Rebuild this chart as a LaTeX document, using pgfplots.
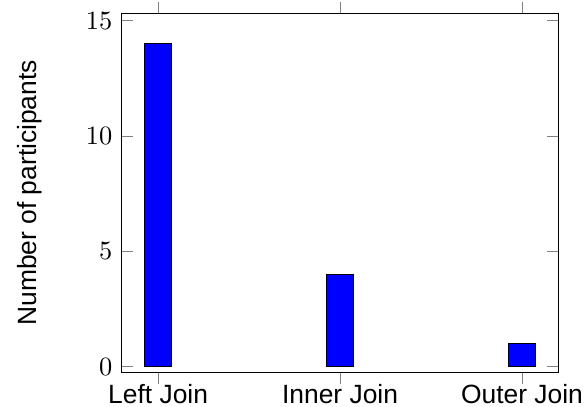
\documentclass[border=0pt]{standalone}
\usepackage{pgfplots}
\pgfplotsset{compat=1.18}
\usepackage{fontspec}
\setmainfont{Liberation Sans}
\begin{document}
\begin{tikzpicture}
\begin{axis}[
  scale only axis,
  width=165.4pt, height=136.1pt,
  ybar,
  bar width=10pt,
  xmin=-0.2, xmax=2.2,
  ymin=-0.26, ymax=15.32,
  xtick=data,
  xticklabels={Left Join, Inner Join, Outer Join},
  xticklabel style={yshift=3.5pt},
  ytick={0,5,10,15},
  ylabel={Number of participants},
  ylabel style={at={(axis description cs:-0.21,0.5)}, anchor=center},
]
\addplot[fill=blue, draw=black] coordinates {(0,14) (1,4) (2,1)};
\coordinate (sw) at (rel axis cs:0,0);
\coordinate (ne) at (rel axis cs:1,1);
\end{axis}
\pgfresetboundingbox
\path ([shift={(-46.1pt,-13.0pt)}]sw) rectangle ([shift={(9.7pt,5.0pt)}]ne);
\end{tikzpicture}
\end{document}
